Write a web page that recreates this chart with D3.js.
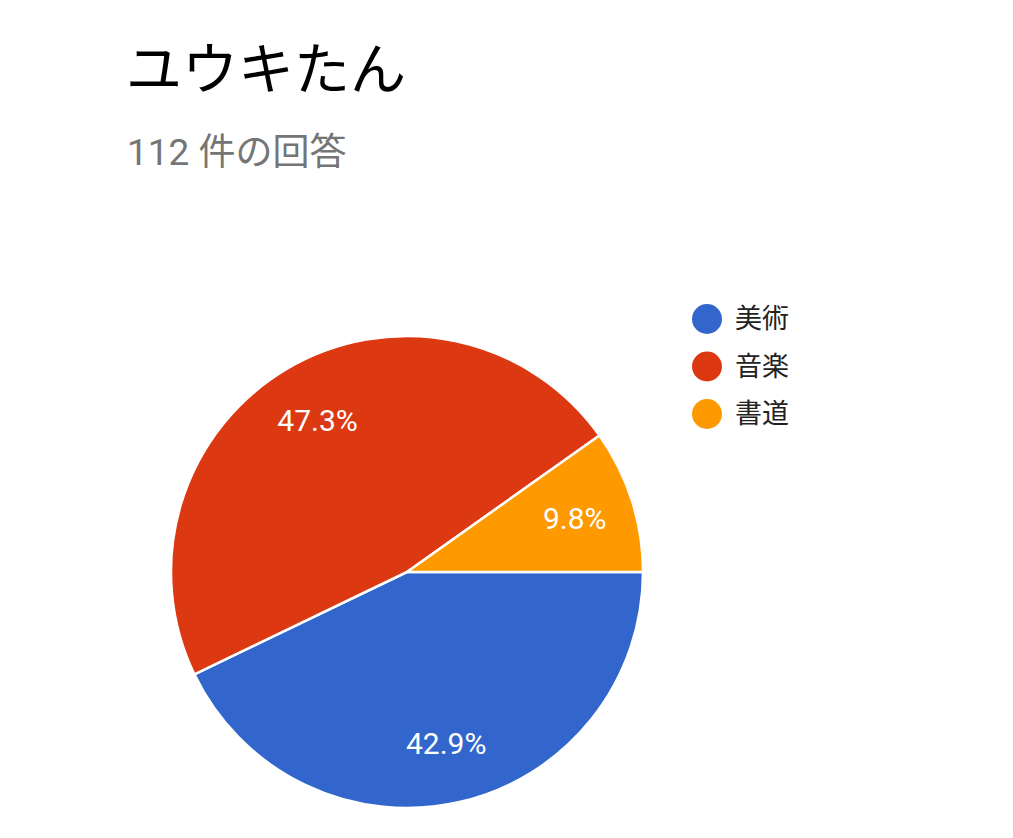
<!DOCTYPE html>
<html>
<head>
<meta charset="utf-8">
<script src="https://cdn.jsdelivr.net/npm/d3@7"></script>
<style>
  body { margin: 0; background: #fff; }
  text { font-family: Roboto, "Noto Sans CJK JP", sans-serif; }
</style>
</head>
<body>
<script>
// chart data
const title = 'ユウキたん';
const subtitle = '112 件の回答';
const categories = ['美術', '音楽', '書道'];
const counts = [48, 53, 11];
const colors = ['#3366cc', '#dc3912', '#ff9900'];

const width = 1013,
  height = 838;

const svg = d3
  .select('body')
  .append('svg')
  .attr('width', width)
  .attr('height', height);

svg
  .append('text')
  .attr('x', 126)
  .attr('y', 89)
  .attr('font-family', '"Noto Sans CJK JP"')
  .attr('font-size', 56)
  .attr('fill', '#000')
  .text(title);

svg
  .append('text')
  .attr('x', 127)
  .attr('y', 165)
  .attr('font-size', 37)
  .attr('fill', '#757575')
  .text(subtitle);

// pie, starting at 3 o'clock and going clockwise
const cx = 407,
  cy = 572,
  radius = 236;
const total = d3.sum(counts);

const pie = d3
  .pie()
  .sort(null)
  .startAngle(Math.PI / 2)
  .endAngle(Math.PI / 2 + 2 * Math.PI);

const arc = d3.arc().innerRadius(0).outerRadius(radius);
const labelArc = d3.arc().innerRadius(176).outerRadius(176);

const g = svg.append('g').attr('transform', `translate(${cx},${cy})`);
const slices = pie(counts);

g.selectAll('path')
  .data(slices)
  .enter()
  .append('path')
  .attr('d', arc)
  .attr('fill', (d, i) => colors[i])
  .attr('stroke', '#fff')
  .attr('stroke-width', 2.5);

g.selectAll('text')
  .data(slices)
  .enter()
  .append('text')
  .attr('x', (d) => labelArc.centroid(d)[0])
  .attr('y', (d) => labelArc.centroid(d)[1])
  .attr('dy', '0.36em')
  .attr('text-anchor', 'middle')
  .attr('font-size', 30)
  .attr('fill', '#fff')
  .text((d) => ((d.value / total) * 100).toFixed(1) + '%');

// legend
const legend = svg
  .selectAll('.legend')
  .data(categories)
  .enter()
  .append('g')
  .attr('class', 'legend')
  .attr('transform', (d, i) => `translate(707,${319 + i * 47.5})`);

legend
  .append('circle')
  .attr('r', 15)
  .attr('fill', (d, i) => colors[i]);

legend
  .append('text')
  .attr('x', 28)
  .attr('dy', '0.35em')
  .attr('font-family', '"Noto Sans CJK JP"')
  .attr('font-size', 27)
  .attr('fill', '#222')
  .text((d) => d);
</script>
</body>
</html>
